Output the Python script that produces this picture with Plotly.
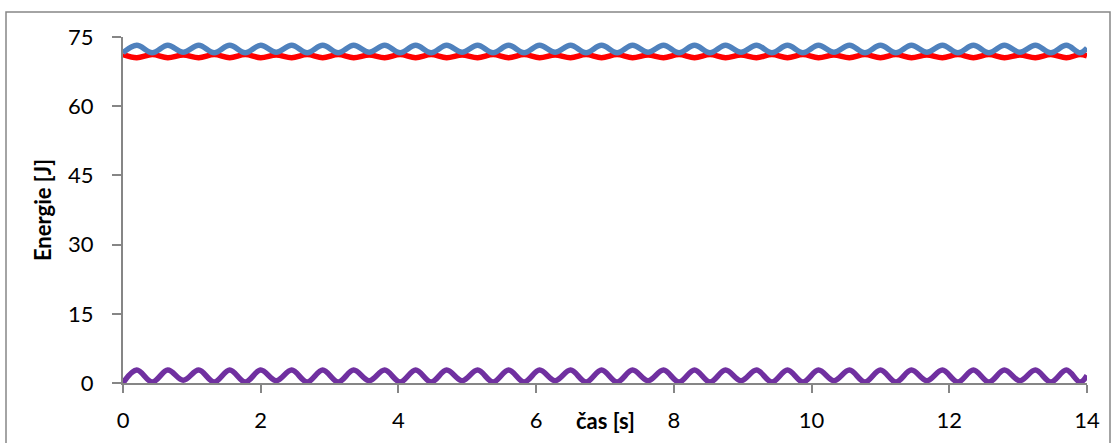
import plotly.graph_objects as go

# Sample times [s]: start, alternating extrema, end
time_s = [0.0, 0.2, 0.425, 0.65, 0.875, 1.1, 1.325, 1.55, 1.775, 2.0, 2.225,
          2.45, 2.675, 2.9, 3.125, 3.35, 3.575, 3.8, 4.025, 4.25, 4.475,
          4.7, 4.925, 5.15, 5.375, 5.6, 5.825, 6.05, 6.275, 6.5, 6.725,
          6.95, 7.175, 7.4, 7.625, 7.85, 8.075, 8.3, 8.525, 8.75, 8.975,
          9.2, 9.425, 9.65, 9.875, 10.1, 10.325, 10.55, 10.775, 11.0, 11.225,
          11.45, 11.675, 11.9, 12.125, 12.35, 12.575, 12.8, 13.025, 13.25, 13.475,
          13.7, 13.9, 14.0]

# Total energy [J]
total_energy = [71.6, 73.2, 71.6, 73.2, 71.7, 73.2, 71.6, 73.2, 71.6, 73.2, 71.7,
                73.2, 71.6, 73.2, 71.6, 73.2, 71.7, 73.2, 71.6, 73.2, 71.6,
                73.2, 71.7, 73.2, 71.6, 73.2, 71.6, 73.2, 71.7, 73.2, 71.6,
                73.2, 71.6, 73.2, 71.7, 73.2, 71.6, 73.2, 71.6, 73.2, 71.7,
                73.2, 71.6, 73.2, 71.6, 73.2, 71.7, 73.2, 71.6, 73.2, 71.6,
                73.2, 71.7, 73.2, 71.6, 73.2, 71.6, 73.2, 71.7, 73.2, 71.6,
                73.2, 71.6, 72.6]

# Potential energy [J]
potential_energy = [71.2, 70.5, 71.2, 70.5, 71.1, 70.5, 71.2, 70.5, 71.2, 70.5, 71.1,
                    70.5, 71.2, 70.5, 71.2, 70.5, 71.1, 70.5, 71.2, 70.5, 71.2,
                    70.5, 71.1, 70.5, 71.2, 70.5, 71.2, 70.5, 71.1, 70.5, 71.2,
                    70.5, 71.2, 70.5, 71.1, 70.5, 71.2, 70.5, 71.2, 70.5, 71.1,
                    70.5, 71.2, 70.5, 71.2, 70.5, 71.1, 70.5, 71.2, 70.5, 71.2,
                    70.5, 71.1, 70.5, 71.2, 70.5, 71.2, 70.5, 71.1, 70.5, 71.2,
                    70.5, 71.2, 70.9]

# Kinetic energy [J]
kinetic_energy = [0.0, 2.8, 0.2, 2.8, 0.6, 2.8, 0.2, 2.8, 0.2, 2.8, 0.5,
                  2.8, 0.2, 2.8, 0.2, 2.8, 0.5, 2.8, 0.2, 2.8, 0.2,
                  2.8, 0.5, 2.8, 0.2, 2.8, 0.2, 2.8, 0.5, 2.8, 0.2,
                  2.8, 0.2, 2.8, 0.5, 2.8, 0.2, 2.8, 0.2, 2.8, 0.5,
                  2.8, 0.2, 2.8, 0.2, 2.8, 0.5, 2.8, 0.2, 2.8, 0.2,
                  2.8, 0.5, 2.8, 0.2, 2.8, 0.2, 2.8, 0.5, 2.8, 0.2,
                  2.8, 0.2, 1.6]

y_ticks = [0, 15, 30, 45, 60, 75]
x_ticks = [0, 2, 4, 6, 8, 10, 12, 14]

FONT = "Lato"
AXIS_GREY = "#868686"

fig = go.Figure()
line_kw = dict(mode="lines", line_shape="spline", hoverinfo="skip", showlegend=False)
fig.add_trace(go.Scatter(x=time_s, y=potential_energy,
                         line=dict(color="#FF0000", width=5.5, smoothing=1.0), **line_kw))
fig.add_trace(go.Scatter(x=time_s, y=total_energy,
                         line=dict(color="#4F81BD", width=5.5, smoothing=1.0), **line_kw))
fig.add_trace(go.Scatter(x=time_s, y=kinetic_energy,
                         line=dict(color="#7030A0", width=5.5, smoothing=1.0), **line_kw))

fig.update_layout(
    width=1116, height=443,
    margin=dict(l=123, r=29, t=37, b=60),
    paper_bgcolor="white", plot_bgcolor="white",
    font=dict(family=FONT, size=22, color="black"),
    xaxis=dict(range=[0, 14], tickvals=x_ticks, ticktext=[str(v) for v in x_ticks],
               automargin=False,
               showgrid=False, zeroline=False, showline=True, linecolor=AXIS_GREY,
               linewidth=2, ticks="outside", ticklen=8, tickwidth=2, tickcolor=AXIS_GREY,
               ticklabelstandoff=9, tickfont=dict(family=FONT, size=22)),
    yaxis=dict(range=[0, 75], tickvals=y_ticks, ticktext=[str(v) for v in y_ticks],
               automargin=False,
               showgrid=False, zeroline=False, showline=True, linecolor=AXIS_GREY,
               linewidth=2, ticks="outside", ticklen=9, tickwidth=2, tickcolor=AXIS_GREY,
               ticklabelstandoff=14, tickfont=dict(family=FONT, size=22),
               title=dict(text="<b>Energie [J]</b>", font=dict(family=FONT, size=22),
                          standoff=10)),
    shapes=[dict(type="rect", xref="paper", yref="paper",
                 x0=-117 / 964, x1=1110 / 964 - 123 / 964,
                 y0=-0.5, y1=(443 - 12 - 60) / 346,
                 line=dict(color=AXIS_GREY, width=1.5), fillcolor="rgba(0,0,0,0)",
                 layer="below")],
    annotations=[dict(text="<b>čas [s]</b>", xref="paper", yref="paper",
                      x=0.5, y=-37 / 346, xanchor="center", yanchor="middle",
                      showarrow=False, font=dict(family=FONT, size=22))],
)

fig.write_html("out.html")
